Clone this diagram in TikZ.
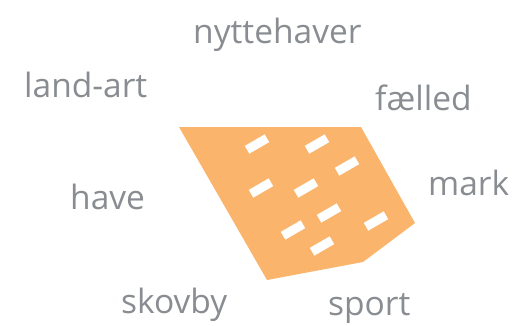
\documentclass[tikz,border=0pt]{standalone}
\usepackage{fontspec}
\setmainfont{Open Sans}
\definecolor{lbl}{HTML}{898C91}
\definecolor{plot}{HTML}{FBB46C}
\begin{document}
\begin{tikzpicture}[x=1pt,y=-1pt,
  lbl/.style={anchor=base west,inner sep=0pt,text=lbl,font=\fontsize{33.5}{36}\selectfont},
  bed/.style={fill=white,draw=none,rotate=30,minimum width=23pt,minimum height=9pt,inner sep=0pt}]
\useasboundingbox (0,0) rectangle (512,325);
\fill[plot] (179,127) -- (361,127) -- (415,223) -- (363,262) -- (267,280) -- cycle;
\node[bed] (b1) at (257,144) {};
\node[bed] (b2) at (317,144) {};
\node[bed] (b3) at (347,166) {};
\node[bed] (b4) at (261,188) {};
\node[bed] (b5) at (306,188) {};
\node[bed] (b6) at (329,213) {};
\node[bed] (b7) at (293,230) {};
\node[bed] (b8) at (376,221) {};
\node[bed] (b9) at (322,246) {};
\node[lbl] (t1) at (193,43) {nyttehaver};
\node[lbl] (t2) at (24,97) {land-art};
\node[lbl] (t3) at (375,110) {fælled};
\node[lbl] (t4) at (428,195) {mark};
\node[lbl] (t5) at (70,209) {have};
\node[lbl] (t6) at (121,313) {skovby};
\node[lbl] (t7) at (328,315) {sport};
\end{tikzpicture}
\end{document}
